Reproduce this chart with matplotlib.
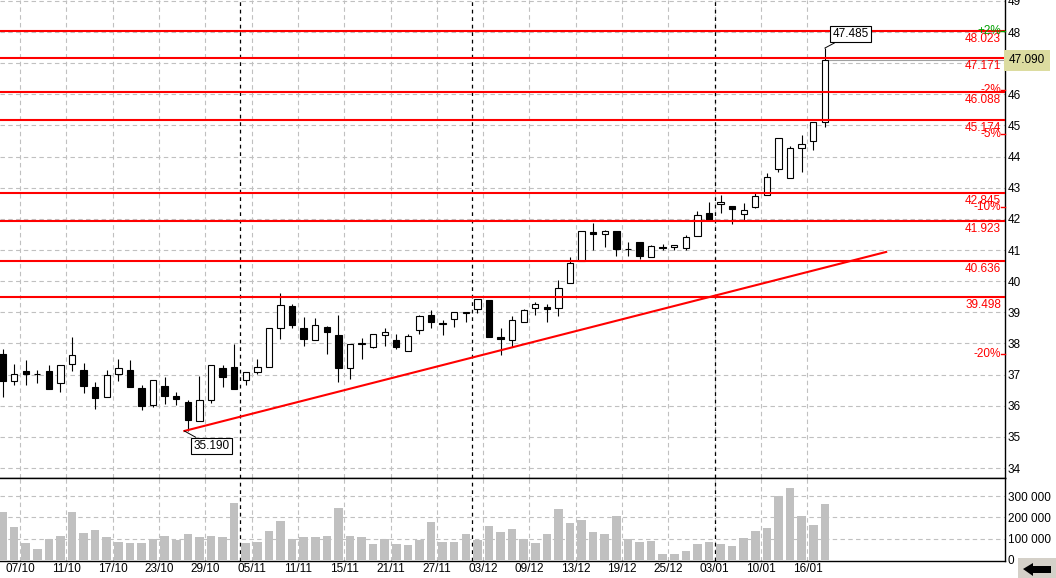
import matplotlib
matplotlib.use("Agg")
import matplotlib.pyplot as plt
import matplotlib.transforms as mtransforms
from matplotlib.patches import Rectangle, Polygon

plt.rcParams['font.family'] = ['Liberation Sans', 'DejaVu Sans']
plt.rcParams['font.size'] = 8

# Datos diarios (72 sesiones, 03/10 - 17/01)
aperturas = [37.66, 36.78, 37.11, 37.02, 37.11, 36.72, 37.33, 37.15, 36.60, 36.29,
             37.01, 37.15, 36.56, 36.04, 36.65, 36.31, 36.12, 35.51, 36.20, 37.21,
             37.23, 36.82, 37.10, 37.25, 38.49, 39.21, 38.49, 38.10, 38.53, 38.27,
             37.20, 37.99, 37.89, 38.26, 38.10, 37.75, 38.42, 38.91, 38.63, 38.78,
             38.99, 39.10, 39.39, 38.21, 38.11, 38.68, 39.13, 39.18, 39.13, 39.93,
             40.65, 41.58, 41.50, 41.61, 41.02, 41.25, 40.78, 41.11, 41.11, 41.07,
             41.45, 42.18, 42.47, 42.41, 42.15, 42.39, 42.77, 43.59, 43.30, 44.27,
             44.50, 45.10]
maximos = [37.82, 37.33, 37.47, 37.15, 37.31, 37.30, 38.22, 37.37, 36.76, 37.15,
           37.50, 37.47, 36.66, 36.82, 36.92, 36.43, 36.18, 36.95, 37.30, 37.31,
           37.98, 37.07, 37.50, 38.49, 39.61, 39.26, 38.86, 38.81, 38.56, 38.91,
           37.98, 38.18, 38.32, 38.49, 38.29, 38.29, 38.93, 39.07, 38.75, 39.02,
           39.02, 39.42, 39.39, 38.50, 38.88, 39.10, 39.34, 39.27, 40.04, 40.78,
           41.61, 41.88, 41.66, 41.61, 41.25, 41.25, 41.15, 41.18, 41.16, 41.48,
           42.25, 42.55, 42.77, 42.41, 42.50, 42.82, 43.46, 44.59, 44.35, 44.69,
           45.10, 47.485]
minimos = [36.29, 36.66, 36.66, 36.74, 36.55, 36.45, 37.12, 36.40, 35.88, 36.29,
           36.79, 36.59, 35.86, 35.95, 36.05, 36.02, 35.19, 35.51, 36.08, 36.59,
           36.54, 36.66, 37.01, 37.25, 38.14, 38.49, 37.93, 38.10, 37.66, 36.77,
           36.87, 37.49, 37.84, 37.93, 37.82, 37.75, 38.29, 38.49, 38.27, 38.54,
           38.70, 38.97, 38.20, 37.63, 37.89, 38.68, 38.91, 38.70, 38.89, 39.93,
           40.65, 41.00, 41.11, 40.82, 40.81, 40.71, 40.78, 41.00, 41.00, 41.00,
           41.45, 41.96, 42.20, 41.83, 41.96, 42.34, 42.77, 43.51, 43.30, 43.51,
           44.21, 44.96]
cierres = [36.80, 37.01, 37.03, 37.02, 36.55, 37.30, 37.62, 36.64, 36.24, 36.98,
           37.20, 36.59, 36.00, 36.82, 36.32, 36.22, 35.54, 36.18, 37.30, 36.91,
           36.54, 37.07, 37.26, 38.49, 39.23, 38.60, 38.13, 38.58, 38.36, 37.22,
           37.98, 38.01, 38.32, 38.36, 37.89, 38.24, 38.88, 38.68, 38.65, 39.02,
           39.00, 39.42, 38.20, 38.13, 38.75, 39.07, 39.26, 39.10, 39.77, 40.60,
           41.61, 41.52, 41.61, 41.03, 41.02, 40.82, 41.13, 41.07, 41.16, 41.41,
           42.12, 41.96, 42.55, 42.31, 42.28, 42.73, 43.33, 44.59, 44.27, 44.39,
           45.10, 47.09]
volumenes = [225, 155, 80, 50, 100, 111, 225, 127, 139, 106,
             84, 80, 80, 100, 111, 92, 122, 108, 111, 108,
             267, 80, 84, 134, 181, 100, 108, 108, 112, 242,
             112, 108, 73, 100, 75, 69, 92, 177, 84, 84,
             122, 94, 159, 131, 144, 100, 80, 120, 240, 172,
             189, 129, 120, 208, 98, 83, 88, 28, 28, 42,
             74, 83, 74, 65, 102, 138, 152, 300, 338, 208,
             162, 263]
volumenes = [v * 1000 for v in volumenes]

etiquetas_fechas = ["07/10", "11/10", "17/10", "23/10", "29/10", "05/11", "11/11",
                    "15/11", "21/11", "27/11", "03/12", "09/12", "13/12", "19/12",
                    "25/12", "03/01", "10/01", "16/01"]
inicio_mes = [20.5, 40.5, 61.5]

niveles = [48.023, 47.171, 46.088, 45.174, 42.845, 41.923, 40.636, 39.498]
precio_base = 47.09
porcentajes = [2, -2, -5, -10, -20]

tendencia_x = [15.7, 76.3]
tendencia_y = [35.19, 40.94]

n = len(cierres)
xs = list(range(n))
pos_fechas = [1.5 + 4 * k for k in range(len(etiquetas_fechas))]

GRIS = '#c0c0c0'
ROJO = '#ff0000'

fig = plt.figure(figsize=(10.56, 5.78), dpi=100)
ax = fig.add_axes([0, 1 - 478 / 578, 1005 / 1056, 478 / 578])
axv = fig.add_axes([0, 1 - 561 / 578, 1005 / 1056, 83 / 578], sharex=ax)

xmin, xmax = -0.22, 86.56
ax.set_xlim(xmin, xmax)
ax.set_ylim(33.68, 49.03)
axv.set_ylim(-5000, 385000)

# rejilla
for a in (ax, axv):
    for p in pos_fechas:
        a.axvline(p, color=GRIS, lw=0.8, ls=(0, (4, 3)), zorder=0)
    for p in inicio_mes:
        a.axvline(p, color='black', lw=0.9, ls=(0, (3, 3)), zorder=1)
    a.spines['left'].set_visible(False)
    a.spines['right'].set_linewidth(1)
    a.spines['bottom'].set_linewidth(1)
    a.yaxis.tick_right()
    a.tick_params(axis='y', length=0, pad=2, labelsize=8.5)
ax.spines['top'].set_visible(False)
# linea negra que separa precio y volumen
axv.spines['top'].set_linewidth(1)
for y in range(34, 50):
    ax.axhline(y, color=GRIS, lw=0.8, ls=(0, (4, 3)), zorder=0)
for y in (100000, 200000, 300000):
    axv.axhline(y, color=GRIS, lw=0.8, ls=(0, (4, 3)), zorder=0)

precios_eje = list(range(34, 50))
ax.set_yticks(precios_eje)
# el 47 queda tapado por la etiqueta del ultimo precio
ax.set_yticklabels(["" if p == 47 else str(p) for p in precios_eje])
ax.tick_params(axis='x', bottom=False, labelbottom=False)
axv.set_yticks([0, 100000, 200000, 300000])
axv.set_yticklabels(["0", "100 000", "200 000", "300 000"])
axv.set_xticks(pos_fechas)
axv.set_xticklabels(etiquetas_fechas)
axv.tick_params(axis='x', length=0, pad=1.5, labelsize=8.5)

# velas
ax.vlines(xs, minimos, maximos, color='black', lw=0.8, zorder=3)
bases = [min(o, c) for o, c in zip(aperturas, cierres)]
alturas = [abs(c - o) for o, c in zip(aperturas, cierres)]
colores = ['white' if c >= o else 'black' for o, c in zip(aperturas, cierres)]
ax.bar(xs, alturas, bottom=bases, width=0.55, color=colores,
       edgecolor='black', linewidth=0.8, zorder=4)

# volumen
axv.bar(xs, volumenes, width=0.74, color=GRIS, zorder=2)

# linea de tendencia y niveles
ax.plot(tendencia_x, tendencia_y, color=ROJO, lw=1.5, zorder=5)
tr = mtransforms.blended_transform_factory(ax.transAxes, ax.transData)
for nv in niveles:
    ax.axhline(nv, color=ROJO, lw=1.5, zorder=5)
    ax.annotate(f"{nv:.3f}", xy=(0.996, nv), xycoords=tr, xytext=(0, -2),
                textcoords='offset pixels', ha='right', va='top',
                color=ROJO, fontsize=8.5, zorder=6)
for pc in porcentajes:
    yv = precio_base * (1 + pc / 100)
    col = '#00a000' if pc > 0 else ROJO
    txt = f"+{pc}%" if pc > 0 else f"{pc}%"
    ax.plot([0.996, 1.0], [yv, yv], transform=tr, color=col, lw=1, zorder=6,
            clip_on=False)
    ax.text(0.996, yv, txt, transform=tr, ha='right', va='center',
            color=col, fontsize=8.5, zorder=6)

# ultimo precio
ax.plot([71.3, xmax], [precio_base, precio_base], color='#a0a0a0', lw=0.8, zorder=3)
ax.annotate(f"{precio_base:.3f}", xy=(1.0, precio_base), xycoords=tr,
            xytext=(4, 0), textcoords='offset pixels', ha='left', va='center',
            fontsize=8.5, zorder=10, annotation_clip=False,
            bbox=dict(boxstyle='square,pad=0.4', fc='#dcdca0', ec='none'))

# etiquetas de maximo y minimo
i_max = maximos.index(max(maximos))
i_min = minimos.index(min(minimos))
ax.annotate(f"{maximos[i_max]:.3f}", xy=(i_max, maximos[i_max]), xytext=(8, 8),
            textcoords='offset pixels', ha='left', va='bottom', fontsize=8.5,
            zorder=8, bbox=dict(boxstyle='square,pad=0.2', fc='white', ec='black', lw=0.8),
            arrowprops=dict(arrowstyle='-', color='black', lw=0.7,
                            shrinkA=0, shrinkB=0))
ax.annotate(f"{minimos[i_min]:.3f}", xy=(i_min - 0.3, minimos[i_min]), xytext=(9, -9),
            textcoords='offset pixels', ha='left', va='top', fontsize=8.5,
            zorder=8, bbox=dict(boxstyle='square,pad=0.2', fc='white', ec='black', lw=0.8),
            arrowprops=dict(arrowstyle='-', color='black', lw=0.7,
                            shrinkA=0, shrinkB=0))

# boton con flecha (esquina inferior derecha)
fig.patches.append(Rectangle((1018 / 1056, 0), 38 / 1056, 20 / 578,
                             transform=fig.transFigure, fc='#d4d0c8', ec='none'))
fig.patches.append(Polygon([(1023 / 1056, 9 / 578), (1033 / 1056, 15 / 578),
                            (1033 / 1056, 12 / 578), (1051 / 1056, 12 / 578),
                            (1051 / 1056, 5 / 578), (1033 / 1056, 5 / 578),
                            (1033 / 1056, 2 / 578)],
                           closed=True, transform=fig.transFigure, fc='black', ec='none'))

fig.savefig("out.png", dpi=100)
